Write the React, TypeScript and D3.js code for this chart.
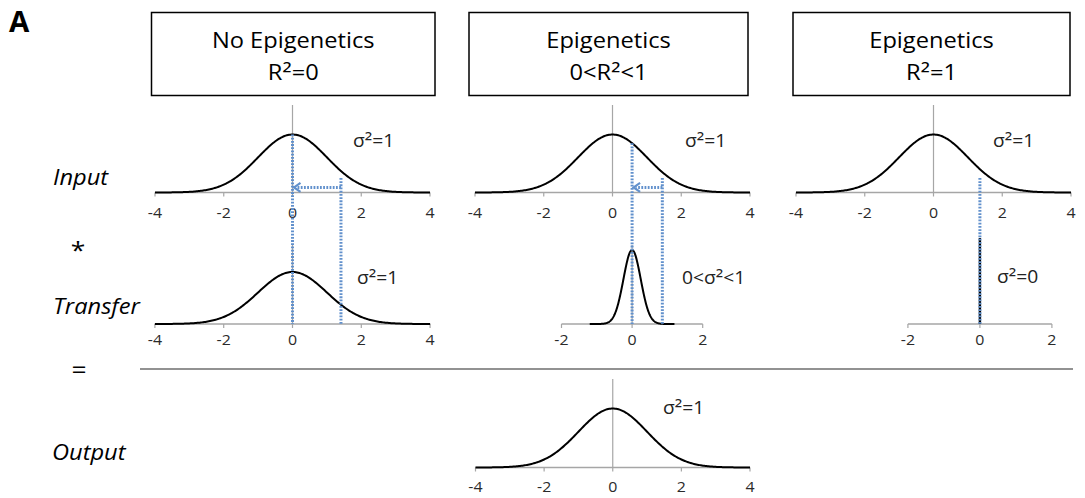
import React from "react";
import * as d3 from "d3";

// ---- data ----
const panelTitles = [
  ["No Epigenetics", "R²=0"],
  ["Epigenetics", "0<R²<1"],
  ["Epigenetics", "R²=1"],
];
const rowLabels = ["Input", "Transfer", "Output"];
const operatorLabels = ["*", "="];
const inputVariance = [1, 1, 1];
const transferVariance = [1, 0.06, 0];
const outputVariance = 1;
const inputSigmaLabels = ["σ²=1", "σ²=1", "σ²=1"];
const transferSigmaLabels = ["σ²=1", "0<σ²<1", "σ²=0"];
const outputSigmaLabel = "σ²=1";
const wideTicks = [-4, -2, 0, 2, 4];
const narrowTicks = [-2, 0, 2];
const transferTicks = [wideTicks, narrowTicks, narrowTicks];
const transferHalfRange = [4, 2, 2];
const transferCurveHalfRange = [4, 1.2, 0];
// input value where the dotted guide starts, and the value it is shifted to
const guideStart = [1.41, 1.45, 1.35];
const guideEnd = [0, 0.57, 1.35];
const guideTopLevel = 0.1;
const arrowLevel = 0.035;

// ---- layout ----
const W = 1085;
const H = 498;
const FONT = "'Open Sans', 'Noto Sans', sans-serif";
const STRETCH = 1.1;
const AXIS_COLOR = "#a6a6a6";
const GUIDE_COLOR = "#6190cc";
const INPUT_RANGE: [number, number][] = [
  [155, 430],
  [475, 750],
  [796, 1071],
];
const OUTPUT_RANGE: [number, number] = [475.5, 750];
const TRANSFER_PX_PER_UNIT = [34.4, 35.3, 36];
const INPUT_AXIS = 192.5;
const TRANSFER_AXIS = 324;
const OUTPUT_AXIS = 467.5;
const INPUT_PEAK_PX = 58;
const TRANSFER_PEAK_PX = [52, 74, 86];
const OUTPUT_PEAK_PX = 59;
const BOXES = [
  [151.5, 12.5, 283.5, 83],
  [469, 12.5, 279, 83],
  [793, 12.5, 277, 83],
];
const INPUT_SIGMA_POS = [
  [353, 147],
  [685, 147],
  [993, 147],
];
const TRANSFER_SIGMA_POS = [
  [357, 284],
  [682, 284],
  [997, 283],
];
const OUTPUT_SIGMA_POS = [663, 414];

const pdf = (x: number, v: number) =>
  Math.exp((-x * x) / (2 * v)) / Math.sqrt(2 * Math.PI * v);

// Splits a label around "²" so the superscript can be drawn a little larger.
function withSup(s: string, size: number) {
  const parts = s.split("²");
  const out: React.ReactNode[] = [];
  const shift = size * 0.07;
  parts.forEach((p, i) => {
    if (i > 0) {
      out.push(
        <tspan key={"s" + i} fontSize={size * 1.12} dy={shift}>
          ²
        </tspan>
      );
      out.push(
        <tspan key={"p" + i} dy={-shift}>
          {p}
        </tspan>
      );
    } else {
      out.push(<tspan key={"p" + i}>{p}</tspan>);
    }
  });
  return out;
}

function Txt({
  x,
  y,
  size,
  anchor = "start",
  italic = false,
  bold = false,
  fill = "#000",
  stretch = STRETCH,
  children,
}: {
  x: number;
  y: number;
  size: number;
  anchor?: string;
  italic?: boolean;
  bold?: boolean;
  fill?: string;
  stretch?: number;
  children: React.ReactNode;
}) {
  return (
    <text
      transform={`translate(${x},${y}) scale(${stretch},1)`}
      textAnchor={anchor}
      fontFamily={FONT}
      fontSize={size}
      fontStyle={italic ? "italic" : "normal"}
      fontWeight={bold ? "bold" : "normal"}
      fill={fill}
    >
      {children}
    </text>
  );
}

function Axis({
  x,
  axisY,
  ticks,
  vTop,
  labelDy,
}: {
  x: d3.ScaleLinear<number, number>;
  axisY: number;
  ticks: number[];
  vTop: number | null;
  labelDy: number;
}) {
  const [x0, x1] = x.range();
  return (
    <g>
      <line x1={x0} x2={x1} y1={axisY} y2={axisY} stroke={AXIS_COLOR} strokeWidth={1.5} />
      {vTop !== null && (
        <line x1={x(0)} x2={x(0)} y1={vTop} y2={axisY} stroke={AXIS_COLOR} strokeWidth={1.2} />
      )}
      {ticks.map((t) => (
        <g key={t}>
          <line x1={x(t)} x2={x(t)} y1={axisY} y2={axisY + 4} stroke={AXIS_COLOR} strokeWidth={1.2} />
          <Txt x={x(t)} y={axisY + labelDy} size={14.5} anchor="middle" fill="#2a2a2a">
            {t}
          </Txt>
        </g>
      ))}
    </g>
  );
}

function Gaussian({
  x,
  y,
  v,
  half,
}: {
  x: d3.ScaleLinear<number, number>;
  y: d3.ScaleLinear<number, number>;
  v: number;
  half: number;
}) {
  const pts = d3.range(-half, half + 1e-9, half / 120);
  const line = d3
    .line<number>()
    .x((d) => x(d))
    .y((d) => y(pdf(d, v)));
  return <path d={line(pts) || ""} fill="none" stroke="#000" strokeWidth={2} />;
}

export default function App() {
  const inputX = INPUT_RANGE.map((r) => d3.scaleLinear().domain([-4, 4]).range(r));
  const inputY = d3
    .scaleLinear()
    .domain([0, pdf(0, 1)])
    .range([INPUT_AXIS, INPUT_AXIS - INPUT_PEAK_PX]);

  const transferX = guideEnd.map((c, i) => {
    const cx = inputX[i](c);
    const h = transferHalfRange[i];
    const k = TRANSFER_PX_PER_UNIT[i];
    return d3.scaleLinear().domain([-h, h]).range([cx - h * k, cx + h * k]);
  });
  const transferY = transferVariance.map((v, i) =>
    d3
      .scaleLinear()
      .domain([0, v > 0 ? pdf(0, v) : 1])
      .range([TRANSFER_AXIS, TRANSFER_AXIS - TRANSFER_PEAK_PX[i]])
  );

  const outX = d3.scaleLinear().domain([-4, 4]).range(OUTPUT_RANGE);
  const outY = d3
    .scaleLinear()
    .domain([0, pdf(0, outputVariance)])
    .range([OUTPUT_AXIS, OUTPUT_AXIS - OUTPUT_PEAK_PX]);

  const guideProps = {
    stroke: GUIDE_COLOR,
    strokeWidth: 3,
    strokeDasharray: "1.8 1.4",
    fill: "none",
  };
  const SIG = 17.5;

  return (
    <svg
      width={W}
      height={H}
      style={{ position: "absolute", left: 0, top: 0, background: "#fff" }}
    >
      <rect x={0} y={0} width={W} height={H} fill="#fff" />
      {/* panel letter */}
      <Txt x={9} y={32} size={28} bold stretch={1.05}>
        A
      </Txt>

      {/* row labels */}
      <Txt x={53} y={185} size={21.5} italic>
        {rowLabels[0]}
      </Txt>
      <Txt x={78} y={259} size={24} anchor="middle">
        {operatorLabels[0]}
      </Txt>
      <Txt x={53} y={314} size={21.5} italic>
        {rowLabels[1]}
      </Txt>
      <Txt x={79} y={378} size={24} anchor="middle">
        {operatorLabels[1]}
      </Txt>
      <Txt x={52} y={460} size={21.5} italic>
        {rowLabels[2]}
      </Txt>

      {/* separator */}
      <line x1={140} x2={1073} y1={369} y2={369} stroke="#6e6e6e" strokeWidth={1.5} />

      {/* title boxes */}
      {panelTitles.map((t, i) => {
        const [bx, by, bw, bh] = BOXES[i];
        return (
          <g key={i}>
            <rect x={bx} y={by} width={bw} height={bh} fill="#fff" stroke="#000" strokeWidth={1.5} />
            <Txt x={bx + bw / 2} y={48} size={21.5} anchor="middle">
              {t[0]}
            </Txt>
            <Txt x={bx + bw / 2} y={80} size={21.5} anchor="middle">
              {withSup(t[1], 21.5)}
            </Txt>
          </g>
        );
      })}

      {/* input row */}
      {inputX.map((x, i) => (
        <g key={"in" + i}>
          <Axis x={x} axisY={INPUT_AXIS} ticks={wideTicks} vTop={105} labelDy={25} />
          <Gaussian x={x} y={inputY} v={inputVariance[i]} half={4} />
          <Txt x={INPUT_SIGMA_POS[i][0]} y={INPUT_SIGMA_POS[i][1]} size={SIG} fill="#222">
            {withSup(inputSigmaLabels[i], SIG)}
          </Txt>
        </g>
      ))}

      {/* transfer row */}
      {transferX.map((x, i) => {
        const v = transferVariance[i];
        return (
          <g key={"tr" + i}>
            <Axis x={x} axisY={TRANSFER_AXIS} ticks={transferTicks[i]} vTop={245} labelDy={21} />
            {v > 0 ? (
              <Gaussian x={x} y={transferY[i]} v={v} half={transferCurveHalfRange[i]} />
            ) : (
              <line
                x1={x(0)}
                x2={x(0)}
                y1={transferY[i](0)}
                y2={transferY[i](1)}
                stroke="#000"
                strokeWidth={2.4}
              />
            )}
            <Txt x={TRANSFER_SIGMA_POS[i][0]} y={TRANSFER_SIGMA_POS[i][1]} size={SIG} fill="#222">
              {withSup(transferSigmaLabels[i], SIG)}
            </Txt>
          </g>
        );
      })}

      {/* output row */}
      <Axis x={outX} axisY={OUTPUT_AXIS} ticks={wideTicks} vTop={379} labelDy={24} />
      <Gaussian x={outX} y={outY} v={outputVariance} half={4} />
      <Txt x={OUTPUT_SIGMA_POS[0]} y={OUTPUT_SIGMA_POS[1]} size={SIG} fill="#222">
        {withSup(outputSigmaLabel, SIG)}
      </Txt>

      {/* dotted guides linking input to transfer */}
      {inputX.map((x, i) => {
        const xs = x(guideStart[i]);
        const xe = x(guideEnd[i]);
        const shifted = Math.abs(xs - xe) > 1;
        const ay = inputY(arrowLevel);
        return (
          <g key={"g" + i}>
            <line x1={xs} x2={xs} y1={inputY(guideTopLevel)} y2={TRANSFER_AXIS} {...guideProps} />
            {shifted && (
              <>
                <line
                  x1={xe}
                  x2={xe}
                  y1={inputY(pdf(guideEnd[i], inputVariance[i]))}
                  y2={TRANSFER_AXIS}
                  {...guideProps}
                />
                <line x1={xs} x2={xe + 4} y1={ay} y2={ay} {...guideProps} />
                <path
                  d={`M${xe + 8},${ay - 4.5} L${xe + 1.5},${ay} L${xe + 8},${ay + 4.5}`}
                  fill="none"
                  stroke={GUIDE_COLOR}
                  strokeWidth={2.2}
                />
              </>
            )}
          </g>
        );
      })}
    </svg>
  );
}
